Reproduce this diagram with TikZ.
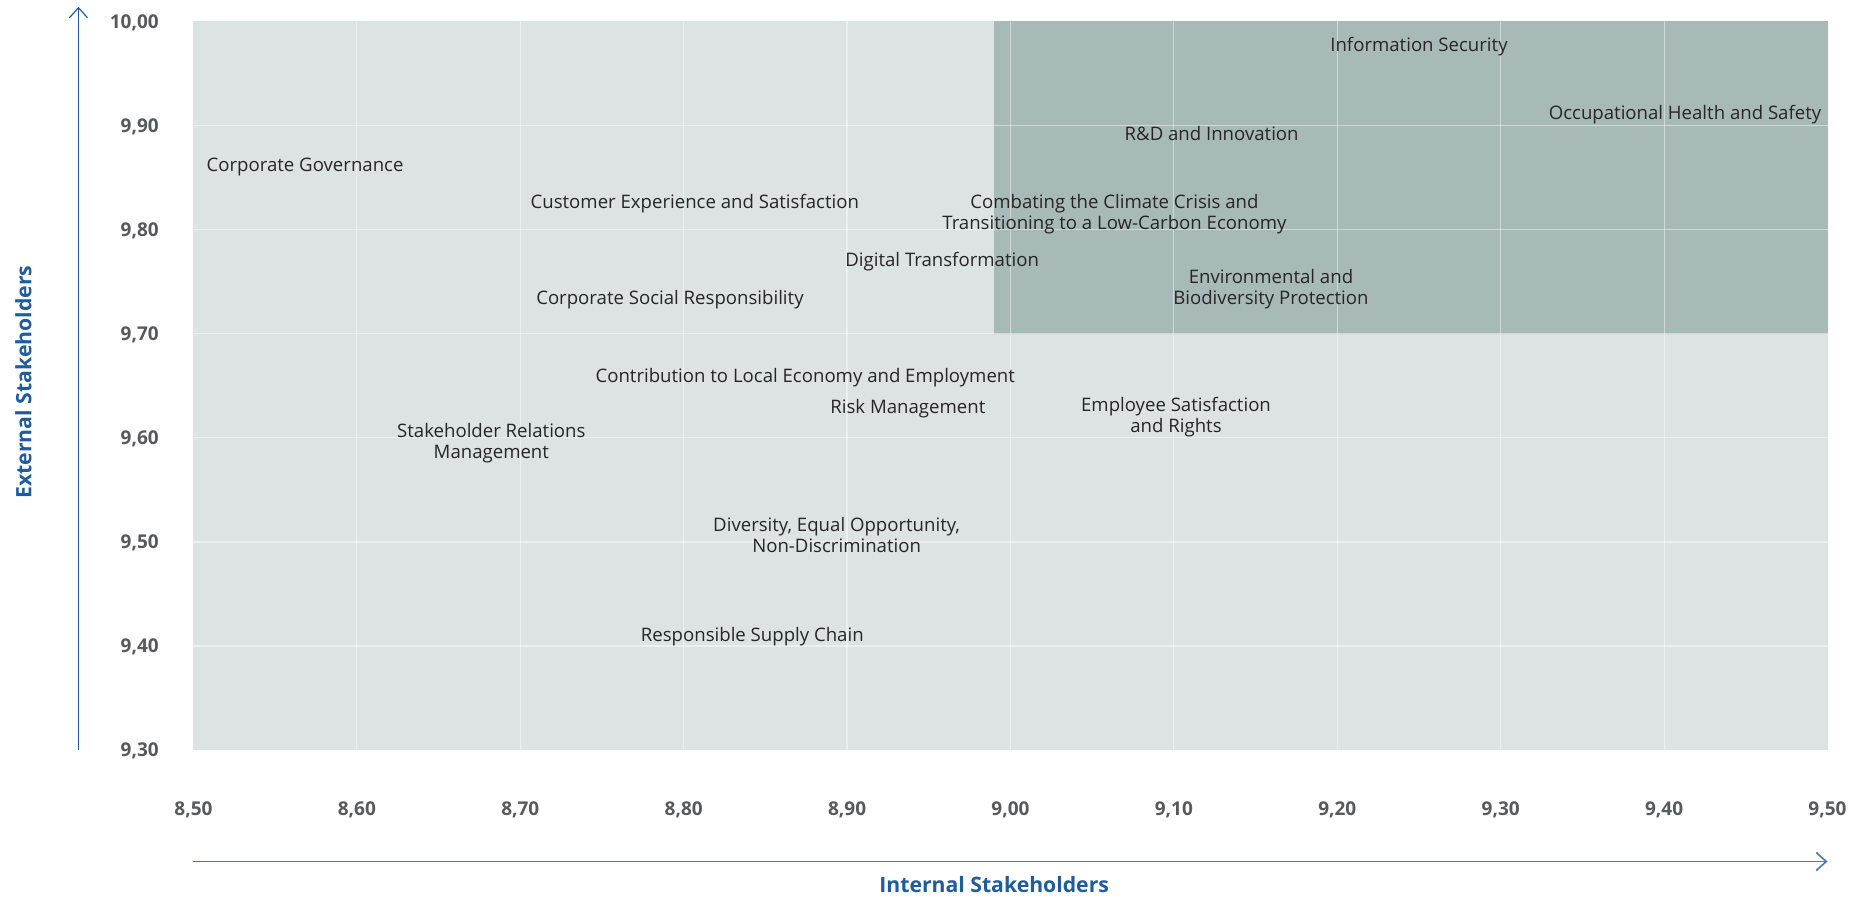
\documentclass[tikz,border=0pt]{standalone}
\usepackage{fontspec}
\setmainfont{Open Sans}
\usetikzlibrary{arrows.meta}
\definecolor{plotbg}{HTML}{DDE2E2}
\definecolor{focusbg}{HTML}{A8BAB8}
\definecolor{axisblue}{HTML}{1F5C9E}
\definecolor{ticktext}{HTML}{58595B}
\tikzstyle{topic} = [align=center,
font=\fontsize{9.3}{10.7}\selectfont,
text=black!85,
inner sep=0pt]
\tikzstyle{tick} = [font=\fontsize{9.5}{11}\selectfont\bfseries,
text=ticktext,
inner sep=0pt]
\tikzstyle{axistitle} = [font=\fontsize{10.6}{12}\selectfont\bfseries,
text=axisblue]
\tikzstyle{gridline} = [draw=white, opacity=0.45, line width=0.6pt]
\tikzstyle{axisline} = [draw=axisblue,
line width=0.6pt,
-{Straight Barb[length=5pt, width=9pt]}]

\begin{document}
\begin{tikzpicture}[x=81.7pt, y=52.05pt]
\useasboundingbox (-1.184,-1.411) rectangle (10.205,7.2056);
% plot area and focus quadrant
\fill[plotbg] (0,0) rectangle (10,7);
\fill[focusbg] (4.9,4) rectangle (10,7);
\foreach \i in {1,...,9} \draw[gridline] (\i,0) -- (\i,7);
\foreach \j in {1,...,6} \draw[gridline] (0,\j) -- (10,\j);

% tick labels
\foreach \i/\lab in {0/8{,}50,1/8{,}60,2/8{,}70,3/8{,}80,4/8{,}90,5/9{,}00,6/9{,}10,7/9{,}20,8/9{,}30,9/9{,}40,10/9{,}50}
  \node (xt\i) [tick] at (\i,-0.57) {\lab};
\foreach \j/\lab in {0/9{,}30,1/9{,}40,2/9{,}50,3/9{,}60,4/9{,}70,5/9{,}80,6/9{,}90,7/10{,}00}
  \node (yt\j) [tick, anchor=east] at (-0.21,\j-0.01) {\lab};

% axes
\coordinate (yfoot) at (-0.704,0);
\coordinate (yhead) at (-0.704,7.14);
\coordinate (xfoot) at (0,-1.07);
\coordinate (xhead) at (10,-1.07);
\draw [axisline] (yfoot) -- (yhead);
\draw [axisline, draw=axisblue!80!white, line width=0.85pt] (xfoot) -- (xhead);
\node (ytitle) [axistitle, rotate=90] at (-1.04,3.535) {External Stakeholders};
\node (xtitle) [axistitle] at (4.9,-1.295) {Internal Stakeholders};

% material topics
\node (infosec) [topic] at (7.50,6.757) {Information Security};
\node (ohs) [topic] at (9.128,6.105) {Occupational Health and Safety};
\node (rnd) [topic] at (6.231,5.922) {R\&D and Innovation};
\node (gov) [topic] at (0.683,5.603) {Corporate Governance};
\node (cx) [topic] at (3.068,5.249) {Customer Experience and Satisfaction};
\node (climate) [topic] at (5.636,5.147) {Combating the Climate Crisis and\\Transitioning to a Low-Carbon Economy};
\node (digital) [topic] at (4.582,4.691) {Digital Transformation};
\node (env) [topic] at (6.594,4.428) {Environmental and\\Biodiversity Protection};
\node (csr) [topic] at (2.916,4.326) {Corporate Social Responsibility};
\node (local) [topic] at (3.744,3.573) {Contribution to Local Economy and Employment};
\node (risk) [topic] at (4.372,3.277) {Risk Management};
\node (employee) [topic] at (6.013,3.197) {Employee Satisfaction\\and Rights};
\node (stake) [topic] at (1.823,2.946) {Stakeholder Relations\\Management};
\node (diversity) [topic] at (3.936,2.068) {Diversity, Equal Opportunity,\\Non-Discrimination};
\node (supply) [topic] at (3.42,1.087) {Responsible Supply Chain};
\end{tikzpicture}
\end{document}
